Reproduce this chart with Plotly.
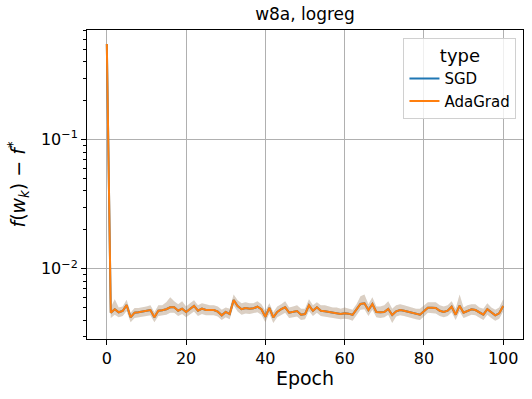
import plotly.graph_objects as go

# --- Data ---
epochs = list(range(0, 101))

adagrad_mean = [
    0.55, 0.00456, 0.00485, 0.00459, 0.00470, 0.00523, 0.00420, 0.00456, 0.00459, 0.00464,
    0.00472, 0.00478, 0.00420, 0.00472, 0.00476, 0.00485, 0.00502, 0.00502, 0.00472, 0.00490,
    0.00462, 0.00485, 0.00514, 0.00472, 0.00490, 0.00478, 0.00476, 0.00478, 0.00464, 0.00435,
    0.00462, 0.00445, 0.00572, 0.00514, 0.00485, 0.00496, 0.00490, 0.00493, 0.00507, 0.00485,
    0.00424, 0.00496, 0.00420, 0.00462, 0.00485, 0.00502, 0.00456, 0.00462, 0.00470, 0.00440,
    0.00445, 0.00520, 0.00472, 0.00502, 0.00472, 0.00467, 0.00462, 0.00456, 0.00451, 0.00445,
    0.00451, 0.00448, 0.00438, 0.00478, 0.00532, 0.00539, 0.00478, 0.00532, 0.00462, 0.00459,
    0.00462, 0.00487, 0.00438, 0.00467, 0.00478, 0.00472, 0.00464, 0.00456, 0.00448, 0.00440,
    0.00467, 0.00498, 0.00498, 0.00496, 0.00472, 0.00462, 0.00472, 0.00507, 0.00440, 0.00517,
    0.00456, 0.00472, 0.00485, 0.00478, 0.00456, 0.00440, 0.00485, 0.00456, 0.00435, 0.00451,
    0.00514,
]
adagrad_hi = [
    0.57, 0.00500, 0.00580, 0.00500, 0.00510, 0.00575, 0.00455, 0.00495, 0.00495, 0.00500,
    0.00510, 0.00520, 0.00460, 0.00520, 0.00520, 0.00550, 0.00600, 0.00560, 0.00530, 0.00560,
    0.00510, 0.00540, 0.00570, 0.00520, 0.00540, 0.00530, 0.00520, 0.00520, 0.00510, 0.00480,
    0.00500, 0.00490, 0.00630, 0.00570, 0.00540, 0.00550, 0.00540, 0.00540, 0.00560, 0.00530,
    0.00470, 0.00540, 0.00460, 0.00510, 0.00530, 0.00560, 0.00500, 0.00510, 0.00520, 0.00490,
    0.00490, 0.00580, 0.00520, 0.00550, 0.00520, 0.00520, 0.00510, 0.00500, 0.00500, 0.00490,
    0.00500, 0.00490, 0.00480, 0.00530, 0.00610, 0.00630, 0.00530, 0.00600, 0.00510, 0.00510,
    0.00520, 0.00560, 0.00490, 0.00520, 0.00530, 0.00520, 0.00510, 0.00500, 0.00490, 0.00490,
    0.00520, 0.00550, 0.00550, 0.00550, 0.00520, 0.00510, 0.00520, 0.00560, 0.00490, 0.00630,
    0.00500, 0.00520, 0.00530, 0.00530, 0.00500, 0.00490, 0.00540, 0.00500, 0.00480, 0.00500,
    0.00580,
]
adagrad_lo = [
    0.53, 0.00415, 0.00440, 0.00420, 0.00430, 0.00470, 0.00385, 0.00415, 0.00420, 0.00425,
    0.00430, 0.00435, 0.00385, 0.00430, 0.00435, 0.00440, 0.00455, 0.00455, 0.00430, 0.00445,
    0.00420, 0.00440, 0.00465, 0.00430, 0.00445, 0.00435, 0.00435, 0.00435, 0.00425, 0.00400,
    0.00420, 0.00405, 0.00520, 0.00465, 0.00440, 0.00450, 0.00445, 0.00450, 0.00460, 0.00440,
    0.00385, 0.00450, 0.00380, 0.00420, 0.00440, 0.00455, 0.00415, 0.00420, 0.00425, 0.00400,
    0.00405, 0.00470, 0.00430, 0.00455, 0.00430, 0.00425, 0.00420, 0.00415, 0.00410, 0.00405,
    0.00410, 0.00405, 0.00395, 0.00435, 0.00480, 0.00485, 0.00430, 0.00480, 0.00420, 0.00415,
    0.00420, 0.00440, 0.00380, 0.00425, 0.00435, 0.00430, 0.00420, 0.00415, 0.00405, 0.00400,
    0.00425, 0.00455, 0.00455, 0.00450, 0.00430, 0.00420, 0.00430, 0.00460, 0.00400, 0.00465,
    0.00415, 0.00430, 0.00440, 0.00435, 0.00415, 0.00400, 0.00440, 0.00415, 0.00395, 0.00410,
    0.00465,
]

# SGD sits exactly underneath AdaGrad in the reference
sgd_mean = list(adagrad_mean)
sgd_hi = list(adagrad_hi)
sgd_lo = list(adagrad_lo)

x_ticks = [0, 20, 40, 60, 80, 100]
y_ticks = [0.01, 0.1]
y_ticktext = ["10<sup>−2</sup>", "10<sup>−1</sup>"]
# minor log ticks 2..9 in each decade
y_minor = [m * d for d in (0.001, 0.01, 0.1) for m in range(2, 10)]

series = [
    ("SGD", sgd_mean, sgd_lo, sgd_hi, "#1f77b4", "rgba(31,119,180,0.2)"),
    ("AdaGrad", adagrad_mean, adagrad_lo, adagrad_hi, "#ff7f0e", "rgba(255,127,14,0.2)"),
]

fig = go.Figure()

# bands first
for name, mean, lo, hi, color, fill in series:
    fig.add_trace(go.Scatter(
        x=epochs + epochs[::-1], y=hi + lo[::-1],
        fill="toself", fillcolor=fill, line=dict(width=0),
        mode="lines", showlegend=False, hoverinfo="skip",
    ))

for name, mean, lo, hi, color, fill in series:
    fig.add_trace(go.Scatter(
        x=epochs, y=mean, mode="lines", name=name,
        line=dict(color=color, width=2),
    ))

font_family = "DejaVu Sans, sans-serif"

fig.update_layout(
    width=532, height=399,
    margin=dict(l=87, r=9, t=30, b=60),
    paper_bgcolor="white", plot_bgcolor="white",
    font=dict(family=font_family, color="black", size=16),
    title=dict(text="w8a, logreg", x=0.5, xref="paper", xanchor="center",
               y=0.965, yanchor="middle", font=dict(size=17)),
    legend=dict(
        x=0.985, y=0.975, xanchor="right", yanchor="top",
        bgcolor="rgba(255,255,255,0.8)", bordercolor="#d0d0d0", borderwidth=1,
        title=dict(text="type", side="top center", font=dict(size=18)),
        font=dict(size=15),
    ),
    showlegend=True,
)

fig.update_xaxes(
    range=[-5, 105], tickvals=x_ticks, ticks="outside", ticklen=5,
    tickcolor="black", tickfont=dict(size=16),
    showgrid=True, gridcolor="#b0b0b0", gridwidth=1,
    showline=True, linecolor="black", linewidth=1, mirror=True,
    zeroline=False, automargin=False,
    title=dict(text="Epoch", font=dict(size=19), standoff=4),
)

fig.update_yaxes(
    type="log", range=[-2.545, -0.151],
    tickvals=y_ticks, ticktext=y_ticktext, ticks="outside", ticklen=5,
    tickcolor="black", tickfont=dict(size=16),
    minor=dict(tickvals=y_minor, ticks="outside", ticklen=3, tickcolor="black",
               showgrid=False),
    showgrid=True, gridcolor="#b0b0b0", gridwidth=1,
    showline=True, linecolor="black", linewidth=1, mirror=True,
    zeroline=False, automargin=False,
    title=dict(text="<i>f</i>(<i>w</i><sub><i>k</i></sub>) − <i>f</i><sup>*</sup>",
               font=dict(size=19), standoff=10),
)

# drop the page's default body margin so the figure sits at the window origin
fig.write_html("out.html", config={"displayModeBar": False},
               post_script="document.body.style.margin='0';")
